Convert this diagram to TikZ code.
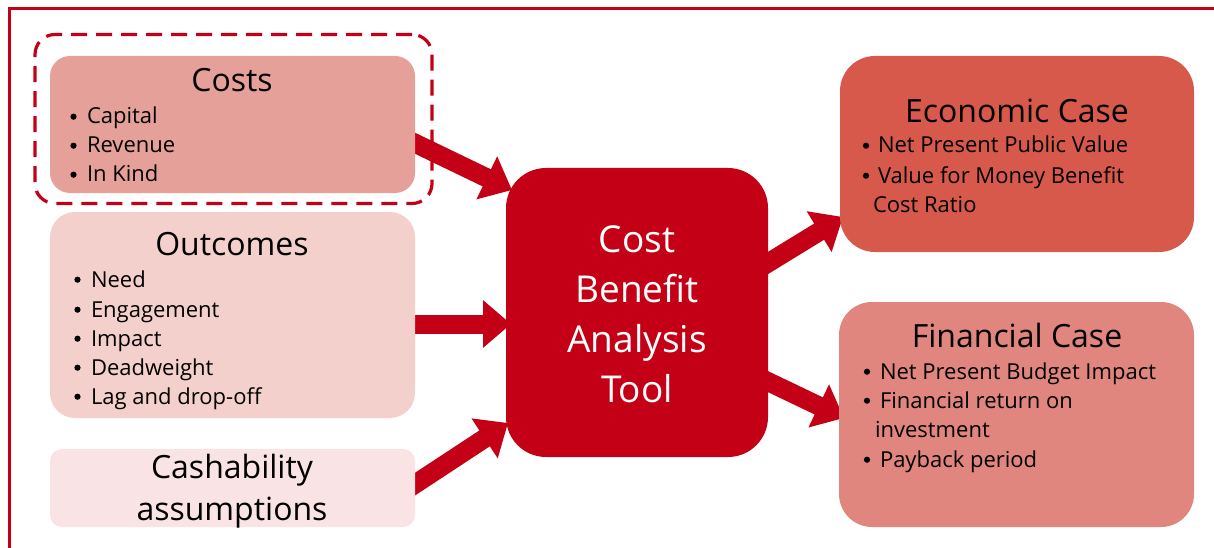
\documentclass[tikz,border=0pt]{standalone}
\usepackage{fontspec}
\setmainfont{Open Sans}
\usetikzlibrary{arrows.meta,backgrounds}
\definecolor{cred}{RGB}{196,0,22}
\definecolor{costfill}{RGB}{230,160,154}
\definecolor{outfill}{RGB}{243,208,204}
\definecolor{cashfill}{RGB}{249,227,229}
\definecolor{econfill}{RGB}{214,89,76}
\definecolor{finfill}{RGB}{224,134,126}
\newcommand{\bulitem}[2][27pt]{\llap{\makebox[#1][c]{\tikz[baseline=0pt]\fill (0pt,7.3pt) circle[radius=3.1pt];}}#2}
\begin{document}
\begin{tikzpicture}[x=1pt,y=-1pt,
  every node/.style={inner sep=0pt,outer sep=0pt},
  panel/.style={rounded corners=#1},
  ttl/.style={font=\fontsize{32}{38}\selectfont, anchor=base},
  bul/.style={font=\fontsize{22}{26}\selectfont, anchor=base west},
  cbatxt/.style={font=\fontsize{37}{44}\selectfont, anchor=base, text=white},
  bigarrow/.style={draw=cred, line width=19pt, -{Triangle[length=28pt,width=46pt]}}
]
\useasboundingbox (0,0) rectangle (1214,548);

% boxes
\node[panel=20pt, fill=costfill, minimum width=365pt, minimum height=137pt] (costs) at (232.5,124.5) {};
\node[panel=25pt, fill=outfill, minimum width=365pt, minimum height=206pt] (outcomes) at (232.5,315) {};
\node[panel=12pt, fill=cashfill, minimum width=365pt, minimum height=78pt] (cash) at (232.5,488) {};
\node[panel=40pt, fill=cred, minimum width=262pt, minimum height=289pt] (cba) at (637,312.5) {};
\node[panel=35pt, fill=econfill, minimum width=354pt, minimum height=196pt] (econ) at (1017,154) {};
\node[panel=33pt, fill=finfill, minimum width=355pt, minimum height=225pt] (fin) at (1016.5,414.5) {};
\node[panel=20pt, draw=cred, line width=3.2pt, dash pattern=on 16pt off 9pt, minimum width=397pt, minimum height=169pt] (costgroup) at (233.5,119) {};

% Costs
\node[ttl] (costsT) at (232,92) {Costs};
\node[bul] (costs1) at (87,124) {\bulitem{Capital}};
\node[bul] (costs2) at (87,153) {\bulitem{Revenue}};
\node[bul] (costs3) at (87,182) {\bulitem{In Kind}};

% Outcomes
\node[ttl] (outT) at (232,255) {Outcomes};
\node[bul] (out1) at (91,287) {\bulitem{Need}};
\node[bul] (out2) at (91,317) {\bulitem{Engagement}};
\node[bul] (out3) at (91,346) {\bulitem{Impact}};
\node[bul] (out4) at (91,375) {\bulitem{Deadweight}};
\node[bul] (out5) at (91,404) {\bulitem{Lag and drop-off}};

% Cashability
\node[ttl] (cashT1) at (232,478) {Cashability};
\node[ttl] (cashT2) at (232,520) {assumptions};

% Centre
\node[cbatxt] (cba1) at (637,252) {Cost};
\node[cbatxt] (cba2) at (637,302) {Benefit};
\node[cbatxt] (cba3) at (637,352) {Analysis};
\node[cbatxt] (cba4) at (637,402) {Tool};

% Economic
\node[ttl] (econT) at (1017,123) {Economic Case};
\node[bul] (econ1) at (878,153) {\bulitem[24pt]{Net Present Public Value}};
\node[bul] (econ2) at (878,183) {\bulitem[24pt]{Value for Money Benefit}};
\node[bul] (econ3) at (873,212) {Cost Ratio};

% Financial
\node[ttl] (finT) at (1017,347) {Financial Case};
\node[bul] (fin1) at (880,379) {\bulitem[26pt]{Net Present Budget Impact}};
\node[bul] (fin2) at (880,408) {\bulitem[26pt]{Financial return on}};
\node[bul] (fin3) at (875,437) {investment};
\node[bul] (fin4) at (880,467) {\bulitem[26pt]{Payback period}};

% frame and arrows behind
\begin{scope}[on background layer]
\draw[cred, line width=2.8pt] (9.5,548) -- (9.5,8.5) -- (1214,8.5);
\coordinate (a1s) at (400,136); \coordinate (a1e) at (512,190);
\coordinate (a2s) at (400,324); \coordinate (a2e) at (511,324);
\coordinate (a3s) at (400,494); \coordinate (a3e) at (508,423);
\coordinate (a4s) at (750,274); \coordinate (a4e) at (843,217);
\coordinate (a5s) at (750,373); \coordinate (a5e) at (844,418);
\draw[bigarrow] (a1s) -- (a1e);
\draw[bigarrow] (a2s) -- (a2e);
\draw[bigarrow] (a3s) -- (a3e);
\draw[bigarrow] (a4s) -- (a4e);
\draw[bigarrow] (a5s) -- (a5e);
\end{scope}
\end{tikzpicture}
\end{document}
